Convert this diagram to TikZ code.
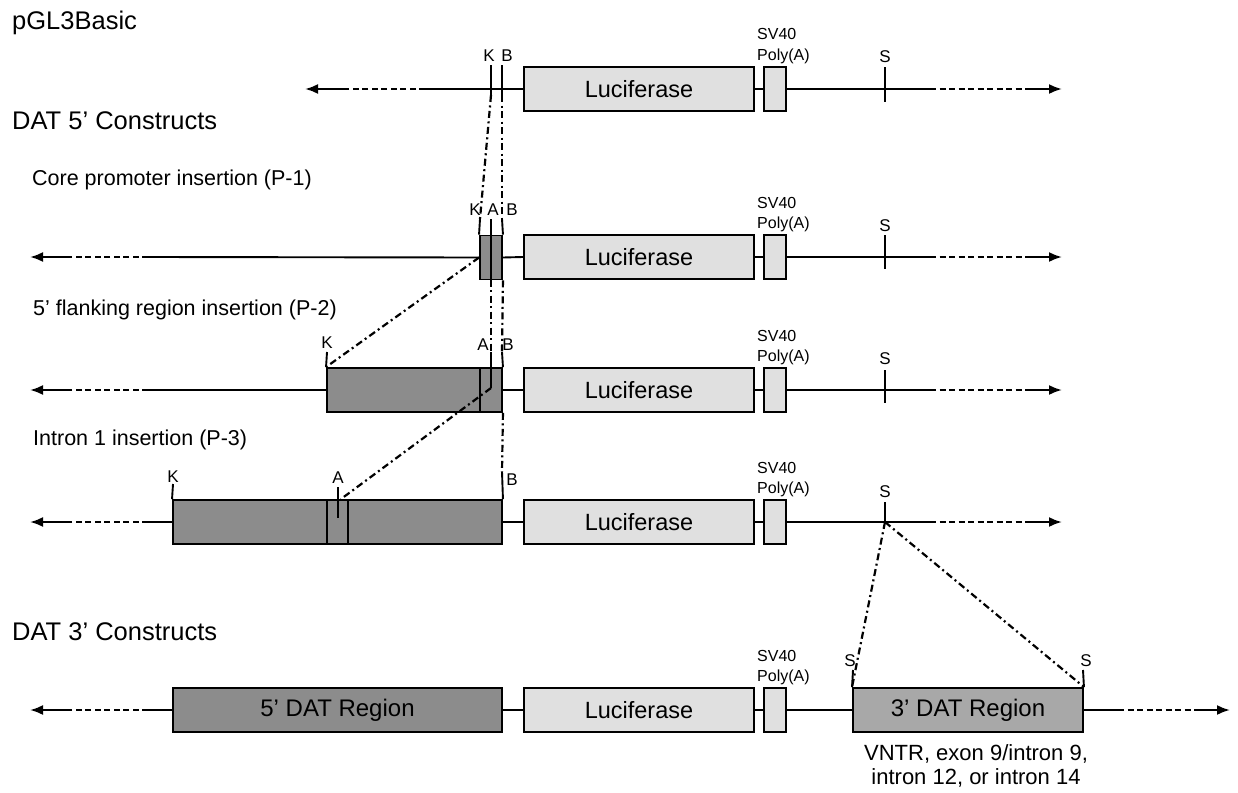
\documentclass[tikz,border=0pt]{standalone}
\usepackage{fontspec}
\setmainfont{Liberation Sans}
\usetikzlibrary{arrows.meta}
\definecolor{lucgray}{gray}{0.88}
\definecolor{insgray}{gray}{0.55}
\definecolor{datgray}{gray}{0.66}
\tikzset{
  bx/.style={draw, line width=1.9pt, inner sep=0pt, minimum height=44pt},
  luc/.style={bx, fill=lucgray, minimum width=230pt, font=\fontsize{23.5}{23.5}\selectfont},
  poly/.style={bx, fill=lucgray, minimum width=22pt},
  ins/.style={bx, fill=insgray},
  bb/.style={line width=1.9pt},
  dsh/.style={line width=2.2pt, dash pattern=on 6pt off 3.5pt},
  ddot/.style={line width=2.2pt, dash pattern=on 7pt off 3.5pt on 2pt off 3.5pt},
  tk/.style={line width=1.9pt},
  arr/.style={line width=2.2pt, -{Latex[length=13pt,width=10pt]}},
  site/.style={font=\fontsize{17}{17}\selectfont, inner sep=0pt},
  sv/.style={font=\fontsize{16}{16}\selectfont, inner sep=0pt, anchor=base west},
  head/.style={font=\fontsize{25.5}{25.5}\selectfont, inner sep=0pt, anchor=base west},
  sub/.style={font=\fontsize{21.5}{21.5}\selectfont, inner sep=0pt, anchor=base west},
  big/.style={font=\fontsize{24}{24}\selectfont},
  note/.style={font=\fontsize{22}{22}\selectfont, inner sep=0pt, anchor=base},
}
\begin{document}
\begin{tikzpicture}[x=1pt,y=-1pt]
\useasboundingbox (0,0) rectangle (1238,792);

% headings
\node[head] (h1) at (12,30) {pGL3Basic};
\node[head] (h2) at (12,129) {DAT 5’ Constructs};
\node[sub]  (s1) at (32,185) {Core promoter insertion (P-1)};
\node[sub]  (s2) at (33,315) {5’ flanking region insertion (P-2)};
\node[sub]  (s3) at (33,445) {Intron 1 insertion (P-3)};
\node[head] (h3) at (12,640) {DAT 3’ Constructs};

% common parts: luciferase, SV40 poly(A)
\foreach \r/\y in {1/89,2/257,3/390,4/522,5/710} {
  \node[luc] (luc\r) at (639,\y) {\raisebox{-5pt}{Luciferase}};
  \node[poly] (pa\r) at (775,\y) {};
  \draw[bb] (luc\r.east) -- (pa\r.west);
  \node[sv] (sv\r) at (757,\y-49) {SV40};
  \node[sv] (py\r) at (757,\y-29) {Poly(A)};
}
% right ends rows 1-4
\foreach \r/\y in {1/89,2/257,3/390,4/522} {
  \coordinate (ra\r) at (930,\y);
  \coordinate (rb\r) at (1025,\y);
  \coordinate (rt\r) at (1062,\y);
  \draw[bb] (pa\r.east) -- (ra\r);
  \draw[dsh] (ra\r) -- (rb\r);
  \draw[arr] (rb\r) -- (rt\r);
}
% left ends rows 2-5
\foreach \r/\y in {2/257,3/390,4/522,5/710} {
  \coordinate (la\r) at (148,\y);
  \coordinate (lb\r) at (68,\y);
  \coordinate (lt\r) at (30,\y);
  \draw[dsh] (la\r) -- (lb\r);
  \draw[arr] (lb\r) -- (lt\r);
}

% ---------- Row 1: pGL3Basic ----------
\coordinate (la1) at (425,89);
\coordinate (lb1) at (343,89);
\coordinate (lt1) at (305,89);
\draw[bb] (luc1.west) -- (la1);
\draw[dsh] (la1) -- (lb1);
\draw[arr] (lb1) -- (lt1);
\coordinate (k1t) at (491,65);  \coordinate (k1b) at (491,95);
\coordinate (b1t) at (502,65);  \coordinate (b1b) at (502,95);
\draw[tk] (k1t) -- (k1b);
\draw[tk] (b1t) -- (b1b);
\node[site] (k1l) at (489,56) {K};
\node[site] (b1l) at (507,56) {B};
\coordinate (s1t) at (885,67); \coordinate (s1b) at (885,102);
\draw[tk] (s1t) -- (s1b);
\node[site] (s1l) at (885,57) {S};

% ---------- Row 2: P-1 ----------
\node[ins, minimum width=22pt] (ins2) at (491,257.5) {};
\draw[bb] (la2) -- (ins2.west);
\draw[bb] (ins2.east) -- (luc2.west);
\coordinate (k2t) at (480,219);
\coordinate (a2t) at (491,219); \coordinate (a2b) at (491,279.5);
\coordinate (b2t) at (502,219);
\draw[tk] (k2t) -- (ins2.north west);
\draw[tk] (a2t) -- (a2b);
\draw[tk] (b2t) -- (ins2.north east);
\node[site] (k2l) at (475,210) {K};
\node[site] (a2l) at (493,210) {A};
\node[site] (b2l) at (512,210) {B};
\coordinate (s2t) at (885,235); \coordinate (s2b) at (885,269);
\draw[tk] (s2t) -- (s2b);
\node[site] (s2l) at (885,226) {S};

% ---------- Row 3: P-2 ----------
\node[ins, minimum width=175pt] (ins3) at (414.5,390) {};
\draw[bb] (la3) -- (ins3.west);
\draw[bb] (ins3.east) -- (luc3.west);
\coordinate (i3t) at (480,368); \coordinate (i3b) at (480,412);
\draw[tk] (i3t) -- (i3b);
\coordinate (k3t) at (327,352);
\coordinate (a3t) at (491,352); \coordinate (a3b) at (491,388);
\coordinate (b3t) at (502,352);
\draw[tk] (k3t) -- (ins3.north west);
\draw[tk] (a3t) -- (a3b);
\draw[tk] (b3t) -- (ins3.north east);
\node[site] (k3l) at (327,343) {K};
\node[site] (a3l) at (483,345) {A};
\node[site] (b3l) at (508,345) {B};
\coordinate (s3t) at (885,370); \coordinate (s3b) at (885,403);
\draw[tk] (s3t) -- (s3b);
\node[site] (s3l) at (885,359) {S};

% ---------- Row 4: P-3 ----------
\node[ins, minimum width=329pt] (ins4) at (337.5,522) {};
\draw[bb] (la4) -- (ins4.west);
\draw[bb] (ins4.east) -- (luc4.west);
\coordinate (i4at) at (327,500); \coordinate (i4ab) at (327,544);
\coordinate (i4bt) at (348,500); \coordinate (i4bb) at (348,544);
\draw[tk] (i4at) -- (i4ab);
\draw[tk] (i4bt) -- (i4bb);
\coordinate (k4t) at (173,484);
\coordinate (a4t) at (338,487); \coordinate (a4b) at (338,518);
\coordinate (a4e) at (341,499);
\coordinate (b4t) at (502,472);
\draw[tk] (k4t) -- (ins4.north west);
\draw[tk] (a4t) -- (a4b);
\draw[tk] (b4t) -- (ins4.north east);
\node[site] (k4l) at (173,477) {K};
\node[site] (a4l) at (338,478) {A};
\node[site] (b4l) at (512,480) {B};
\coordinate (s4t) at (885,502); \coordinate (s4b) at (885,522);
\draw[tk] (s4t) -- (s4b);
\node[site] (s4l) at (885,492) {S};

% ---------- Row 5: 3' constructs ----------
\node[ins, big, minimum width=329pt] (dat5) at (337.5,710) {5’ DAT Region};
\node[bx, fill=datgray, big, minimum width=230pt] (dat3) at (968,710) {3’ DAT Region};
\draw[bb] (la5) -- (dat5.west);
\draw[bb] (dat5.east) -- (luc5.west);
\draw[bb] (pa5.east) -- (dat3.west);
\coordinate (ra5) at (1118,710);
\coordinate (rb5) at (1195,710);
\coordinate (rt5) at (1230,710);
\draw[bb] (dat3.east) -- (ra5);
\draw[dsh] (ra5) -- (rb5);
\draw[arr] (rb5) -- (rt5);
\coordinate (s5at) at (853,670);
\coordinate (s5bt) at (1083,670);
\draw[tk] (s5at) -- (dat3.north west);
\draw[tk] (s5bt) -- (dat3.north east);
\node[site] (s5al) at (850,661) {S};
\node[site] (s5bl) at (1086,661) {S};
\node[note] (vn1) at (976,760) {VNTR, exon 9/intron 9,};
\node[note] (vn2) at (976,784) {intron 12, or intron 14};

% ---------- dash-dot insertion connectors ----------
\draw[ddot] (k1b) -- (k2t);
\draw[ddot] (b1b) -- (b2t);
\draw[ddot] (ins2.west) -- (ins3.north west);
\draw[ddot] (a2b) -- (a3t);
\draw[ddot] (ins2.south east) -- (b3t);
\draw[ddot] (a3b) -- (a4e);
\draw[ddot] (ins3.south east) -- (b4t);
\draw[ddot] (s4b) -- (dat3.north west);
\draw[ddot] (s4b) -- (dat3.north east);
\end{tikzpicture}
\end{document}
